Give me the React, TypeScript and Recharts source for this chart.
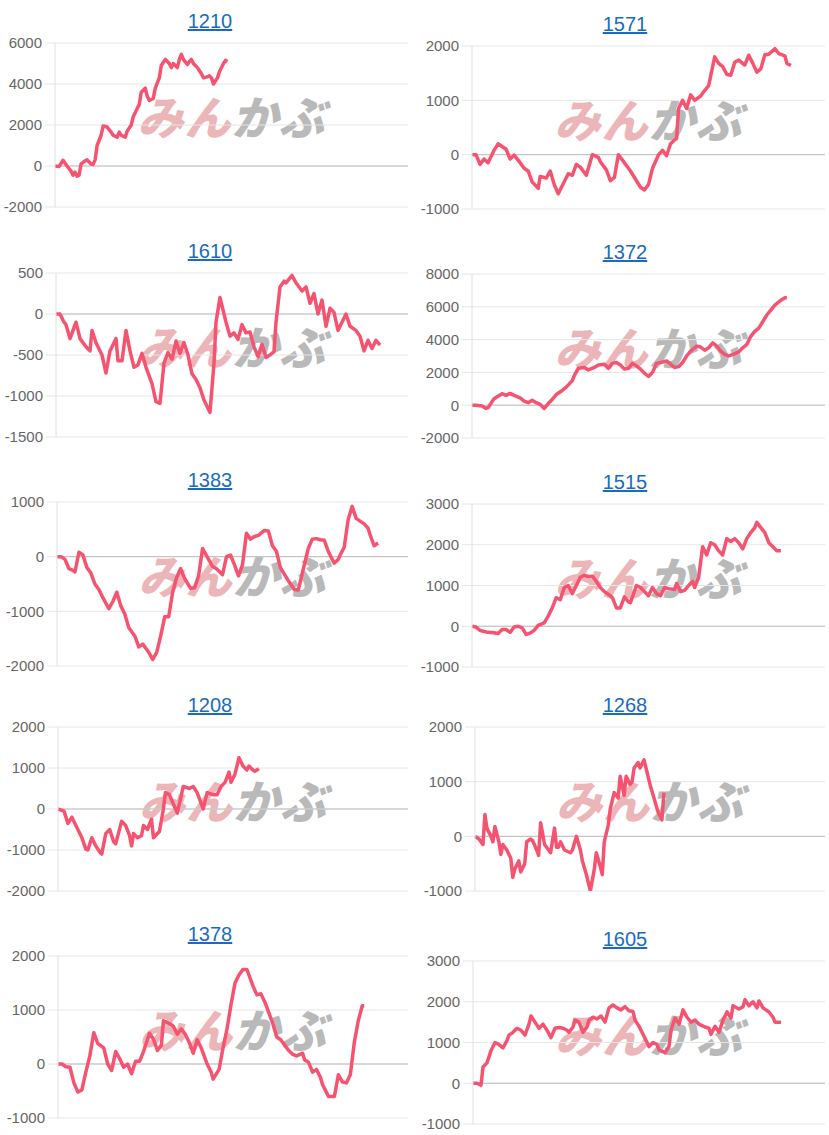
import React from 'react';
import { LineChart, Line, XAxis, YAxis, CartesianGrid, ReferenceLine } from 'recharts';

// ── series (t = trading-day slot, v = profit) ────────────────────────────────

const t1210 = [0, 2, 4, 6, 8, 9, 10, 11, 12, 13, 15, 16, 18, 19, 20, 21, 23, 24, 26, 28, 29, 31, 32, 33, 35, 36, 38, 39, 41, 42, 43, 45, 46, 47, 49, 50, 52, 53, 55, 57, 58, 59, 61, 62, 63, 64, 66, 67, 68, 69, 71, 73, 74, 76, 77, 78, 79, 81, 82, 84, 85, 86];
const v1210 = [0, -30, 280, 0, -250, -450, -300, -500, -450, 100, 250, 300, 100, 80, 300, 1000, 1500, 1950, 1900, 1650, 1500, 1400, 1650, 1500, 1400, 1700, 2000, 2400, 2800, 3000, 3600, 3800, 3400, 3200, 3300, 3800, 4300, 4900, 5200, 5000, 4800, 5000, 4800, 5200, 5450, 5200, 4950, 5100, 5200, 5000, 4800, 4500, 4300, 4350, 4400, 4300, 4000, 4300, 4600, 5000, 5150, 5100];

const t1571 = [0, 2, 4, 6, 8, 11, 13, 15, 17, 19, 21, 23, 26, 28, 30, 33, 34, 37, 39, 41, 43, 46, 48, 50, 52, 54, 57, 60, 63, 64, 67, 69, 71, 73, 75, 78, 79, 82, 84, 86, 88, 90, 93, 95, 97, 99, 101, 102, 103, 105, 107, 109, 111, 114, 116, 118, 121, 123, 125, 127, 129, 131, 133, 136, 138, 140, 142, 144, 146, 148, 151, 153, 156, 157, 159];
const v1571 = [0, 0, -180, -80, -150, 80, 200, 150, 100, -80, -10, -100, -250, -300, -500, -620, -400, -430, -300, -550, -720, -500, -350, -380, -180, -230, -380, 0, -50, -130, -280, -480, -420, 0, -100, -250, -300, -480, -600, -650, -550, -250, 0, 80, -20, 200, 270, 300, 850, 1000, 850, 1100, 1000, 1080, 1180, 1270, 1800, 1680, 1620, 1480, 1460, 1700, 1740, 1650, 1830, 1680, 1520, 1580, 1840, 1850, 1950, 1860, 1820, 1680, 1640];

const t1610 = [0, 2, 4, 5, 7, 10, 12, 15, 17, 18, 20, 23, 25, 27, 30, 31, 33, 35, 37, 39, 41, 43, 45, 48, 50, 52, 54, 56, 58, 60, 62, 64, 66, 68, 70, 72, 74, 77, 79, 80, 82, 85, 87, 89, 91, 93, 95, 97, 99, 101, 103, 105, 107, 109, 110, 112, 114, 115, 118, 120, 123, 125, 127, 129, 131, 133, 135, 137, 139, 141, 143, 145, 147, 150, 152, 154, 156, 158, 160, 162];
const v1610 = [0, 0, -100, -130, -300, -100, -300, -400, -450, -200, -350, -500, -720, -450, -300, -570, -570, -200, -450, -650, -620, -480, -650, -850, -1070, -1090, -600, -470, -550, -330, -480, -350, -500, -730, -800, -900, -1050, -1200, -600, -100, 200, -100, -270, -230, -310, -130, -230, -220, -400, -520, -370, -530, -500, -460, -100, 330, 400, 380, 470, 380, 280, 330, 130, 250, 0, 170, -150, 70, 20, -200, -100, 0, -150, -200, -270, -450, -320, -420, -320, -380];

const t1372 = [0, 2, 5, 7, 8, 11, 13, 15, 17, 19, 21, 24, 26, 28, 30, 32, 34, 36, 38, 40, 42, 45, 47, 50, 51, 53, 56, 58, 61, 63, 66, 68, 70, 72, 74, 76, 78, 80, 82, 84, 86, 88, 90, 92, 94, 97, 99, 101, 103, 105, 107, 109, 112, 114, 116, 118, 120, 122, 124, 126, 128, 131, 133, 135, 137, 139, 141, 143, 145, 147, 149, 151, 154, 156, 157];
const v1372 = [0, 0, -50, -200, -150, 400, 550, 700, 600, 720, 600, 450, 250, 150, 300, 150, 50, -200, 100, 350, 650, 900, 1100, 1500, 1800, 2250, 2300, 2150, 2300, 2450, 2500, 2250, 2550, 2600, 2450, 2200, 2250, 2550, 2400, 2200, 1950, 1750, 2000, 2550, 2600, 2700, 2500, 2300, 2350, 2600, 3000, 3300, 3600, 3550, 3350, 3500, 3800, 3600, 3300, 3100, 3000, 3150, 3250, 3500, 3700, 4200, 4500, 4700, 5100, 5500, 5800, 6100, 6400, 6550, 6550];

const t1383 = [0, 2, 4, 6, 8, 9, 11, 13, 15, 17, 19, 21, 23, 26, 28, 30, 32, 34, 36, 39, 41, 43, 46, 48, 50, 52, 54, 56, 58, 60, 62, 64, 67, 69, 71, 73, 76, 78, 80, 83, 85, 87, 89, 91, 93, 95, 97, 99, 101, 104, 106, 108, 110, 112, 114, 116, 119, 121, 123, 126, 128, 130, 132, 134, 136, 139, 141, 142, 144, 146, 148, 150, 152, 154, 156, 157, 159, 161];
const v1383 = [0, 0, -50, -220, -250, -280, 80, 30, -200, -300, -500, -600, -750, -950, -820, -650, -900, -1050, -1300, -1450, -1650, -1600, -1750, -1880, -1750, -1450, -1100, -1100, -650, -380, -220, -400, -580, -570, -350, 150, -50, -180, -220, -330, 0, 30, -150, -350, -150, 430, 320, 370, 390, 480, 470, 200, 100, -200, -320, -440, -600, -610, -300, 150, 320, 330, 310, 300, 100, -120, -50, 30, 170, 680, 920, 700, 650, 600, 520, 400, 200, 250];

const t1515 = [0, 2, 4, 6, 8, 11, 13, 15, 17, 19, 21, 23, 25, 27, 29, 31, 33, 36, 38, 40, 42, 44, 46, 48, 50, 52, 54, 56, 58, 60, 62, 64, 66, 69, 70, 72, 74, 76, 78, 79, 82, 84, 86, 88, 90, 92, 94, 96, 98, 101, 102, 104, 106, 108, 110, 111, 113, 115, 117, 119, 121, 123, 125, 127, 129, 131, 133, 135, 137, 139, 141, 142, 144, 146, 148, 150, 152, 154];
const v1515 = [0, -20, -100, -130, -150, -160, -180, -80, -80, -150, -20, 0, -40, -200, -170, -100, 20, 80, 250, 450, 700, 650, 950, 1000, 800, 1000, 1200, 1250, 1220, 1230, 1100, 950, 850, 750, 700, 450, 450, 720, 600, 580, 1000, 950, 850, 750, 950, 800, 750, 950, 920, 900, 1050, 850, 880, 1000, 1100, 950, 1200, 1950, 1750, 2050, 2000, 1850, 1750, 2150, 2080, 2150, 2050, 1900, 2150, 2300, 2420, 2550, 2420, 2300, 2050, 1950, 1850, 1850];

const t1208 = [0, 3, 5, 7, 9, 12, 14, 15, 17, 19, 21, 22, 24, 26, 28, 29, 32, 34, 36, 37, 38, 40, 42, 43, 45, 47, 48, 51, 53, 54, 56, 60, 63, 66, 68, 70, 73, 75, 78, 80, 82, 84, 86, 87, 89, 91, 93, 95, 96, 98, 99, 101];
const v1208 = [0, -50, -350, -200, -400, -700, -980, -1000, -700, -900, -1050, -1100, -600, -500, -800, -850, -300, -400, -650, -900, -600, -700, -650, -400, -500, -250, -700, -550, 0, 400, 350, -100, 550, 500, 550, 400, 0, 400, 350, 350, 550, 650, 900, 650, 850, 1250, 1050, 950, 1050, 950, 920, 980];

const t1268 = [0, 2, 4, 5, 6, 8, 9, 10, 12, 13, 14, 16, 18, 19, 20, 22, 23, 25, 26, 28, 29, 31, 32, 33, 35, 37, 38, 40, 41, 42, 43, 45, 48, 49, 51, 53, 54, 56, 58, 60, 61, 63, 64, 65, 67, 68, 70, 72, 73, 75, 76, 78, 79, 80, 82, 83, 85, 86, 88, 90, 92, 94, 95];
const v1268 = [0, -50, -150, 400, 150, 0, -100, 180, -100, -330, -150, -250, -400, -750, -600, -450, -650, -500, -100, -50, -80, -250, -350, 250, -150, -250, -300, 150, -200, -200, -100, -250, -300, -250, 0, -250, -450, -700, -1000, -600, -300, -550, -700, -100, 200, 500, 800, 700, 1100, 750, 1100, 950, 1000, 1250, 1350, 1250, 1400, 1250, 950, 700, 450, 300, 800];

const t1378 = [0, 2, 4, 6, 8, 10, 12, 14, 16, 18, 20, 23, 25, 27, 29, 31, 33, 35, 37, 39, 41, 43, 46, 48, 50, 52, 53, 56, 58, 60, 62, 64, 66, 68, 70, 72, 75, 77, 78, 81, 83, 85, 87, 89, 91, 93, 95, 98, 100, 102, 104, 106, 108, 110, 112, 114, 116, 118, 120, 123, 124, 126, 128, 130, 132, 133, 136, 138, 139, 141, 143, 145, 147, 149, 151, 153, 154];
const v1378 = [0, 0, -50, -60, -350, -520, -480, -150, 150, 580, 380, 300, 0, -120, 230, 100, -60, 0, -180, 50, 50, 230, 570, 460, 250, 350, 800, 750, 700, 550, 650, 550, 400, 200, 450, 300, 0, -150, -280, -100, 300, 650, 1100, 1500, 1650, 1750, 1750, 1450, 1280, 1300, 1150, 950, 750, 500, 450, 350, 250, 180, 150, 200, 80, 30, -150, -100, -250, -380, -600, -600, -600, -200, -330, -350, -200, 400, 800, 1080, 1080];

const t1605 = [0, 2, 4, 5, 7, 9, 11, 13, 15, 17, 18, 20, 22, 24, 26, 28, 29, 31, 33, 35, 37, 39, 41, 43, 45, 47, 48, 50, 51, 53, 55, 57, 58, 60, 62, 64, 66, 68, 70, 72, 74, 76, 78, 80, 81, 83, 85, 88, 90, 92, 93, 96, 98, 99, 101, 103, 105, 107, 109, 111, 113, 116, 118, 119, 121, 123, 125, 127, 129, 130, 133, 135, 136, 138, 140, 142, 143, 145, 148, 150, 151, 153, 154];
const v1605 = [0, 0, -50, 400, 500, 800, 1000, 950, 870, 1050, 1180, 1250, 1350, 1300, 1180, 1450, 1650, 1500, 1350, 1450, 1300, 1120, 1350, 1370, 1350, 1300, 1250, 1380, 1550, 1500, 1250, 1380, 1550, 1620, 1580, 1650, 1500, 1850, 1920, 1850, 1800, 1880, 1780, 1760, 1550, 1400, 1200, 900, 1000, 950, 820, 750, 900, 1300, 1600, 1450, 1800, 1620, 1500, 1550, 1450, 1380, 1350, 1200, 1400, 1250, 1550, 1750, 1600, 1900, 1820, 1880, 2050, 1900, 2000, 1850, 2020, 1850, 1750, 1620, 1500, 1500, 1500];

// ── y-axis tick labels ────────────────────────────────────────────────────────

const ticks1210 = [-2000, 0, 2000, 4000, 6000];
const ticks1571 = [-1000, 0, 1000, 2000];
const ticks1610 = [-1500, -1000, -500, 0, 500];
const ticks1372 = [-2000, 0, 2000, 4000, 6000, 8000];
const ticks1383 = [-2000, -1000, 0, 1000];
const ticks1515 = [-1000, 0, 1000, 2000, 3000];
const ticks1208 = [-2000, -1000, 0, 1000, 2000];
const ticks1268 = [-1000, 0, 1000, 2000];
const ticks1378 = [-1000, 0, 1000, 2000];
const ticks1605 = [-1000, 0, 1000, 2000, 3000];

const SLOTS = 176;
const LINE = '#f5536f';
const COL_W = 414;

// layout: col 0 = left, 1 = right; plot box in page px
const panels = [
  { code: '1210', t: t1210, v: v1210, ticks: ticks1210, col: 0, top: 43, bottom: 207, left: 55 },
  { code: '1571', t: t1571, v: v1571, ticks: ticks1571, col: 1, top: 46, bottom: 209, left: 472 },
  { code: '1610', t: t1610, v: v1610, ticks: ticks1610, col: 0, top: 273, bottom: 437, left: 56 },
  { code: '1372', t: t1372, v: v1372, ticks: ticks1372, col: 1, top: 274, bottom: 438, left: 472 },
  { code: '1383', t: t1383, v: v1383, ticks: ticks1383, col: 0, top: 502, bottom: 666, left: 57 },
  { code: '1515', t: t1515, v: v1515, ticks: ticks1515, col: 1, top: 504, bottom: 667, left: 472 },
  { code: '1208', t: t1208, v: v1208, ticks: ticks1208, col: 0, top: 727, bottom: 891, left: 58 },
  { code: '1268', t: t1268, v: v1268, ticks: ticks1268, col: 1, top: 727, bottom: 891, left: 475 },
  { code: '1378', t: t1378, v: v1378, ticks: ticks1378, col: 0, top: 956, bottom: 1118, left: 58 },
  { code: '1605', t: t1605, v: v1605, ticks: ticks1605, col: 1, top: 961, bottom: 1124, left: 473 },
];

type Panel = (typeof panels)[number];

function Watermark({ cx, top }: { cx: number; top: number }) {
  return (
    <div
      style={{
        position: 'absolute', left: cx - 110, top, width: 220, height: 40,
        textAlign: 'center', fontFamily: '"Noto Sans CJK JP", sans-serif',
        fontSize: 46, fontWeight: 900, fontStyle: 'italic', lineHeight: '40px',
        letterSpacing: 1, whiteSpace: 'nowrap',
      }}
    >
      <span style={{ color: '#ecb6b9' }}>みん</span>
      <span style={{ color: '#b9b9b9' }}>かぶ</span>
    </div>
  );
}

function MiniChart({ p }: { p: Panel }) {
  const colX = p.col === 0 ? 0 : 415;
  const plotRight = p.col === 0 ? 408 : 825;
  const data = p.t.map((t, i) => ({ t, v: p.v[i] }));
  const h = p.bottom - p.top;
  const domain: [number, number] = [p.ticks[0], p.ticks[p.ticks.length - 1]];

  return (
    <>
      <a
        href="#"
        style={{
          position: 'absolute', left: colX + 3, width: COL_W, top: p.top - 34,
          textAlign: 'center', fontSize: 20, lineHeight: '24px', color: '#1a6bbf',
          fontFamily: '"Liberation Sans", Arial, sans-serif', textDecoration: 'underline',
        }}
      >
        {p.code}
      </a>
      <Watermark cx={(p.left + plotRight) / 2} top={p.top + 52} />
      <div style={{ position: 'absolute', left: colX, top: p.top - 10 }}>
        <LineChart
          width={COL_W}
          height={h + 20}
          data={data}
          margin={{ top: 10, bottom: 10, left: 0, right: colX + COL_W - plotRight }}
        >
          <CartesianGrid vertical={false} stroke="#e6e6e6" />
          <XAxis type="number" dataKey="t" domain={[0, SLOTS]} hide />
          <YAxis
            type="number"
            domain={domain}
            ticks={p.ticks}
            interval={0}
            width={p.left - colX}
            tickSize={10}
            tickMargin={3}
            axisLine={{ stroke: '#e0e0e0' }}
            tickLine={{ stroke: '#e6e6e6' }}
            tick={{ fontSize: 15, fill: '#666', fontFamily: '"Liberation Sans", Arial, sans-serif' }}
            allowDataOverflow
          />
          <ReferenceLine y={0} stroke="#bdbdbd" />
          <Line
            type="linear"
            dataKey="v"
            stroke={LINE}
            strokeWidth={3.5}
            dot={false}
            strokeLinejoin="round"
            isAnimationActive={false}
          />
        </LineChart>
      </div>
    </>
  );
}

export default function App() {
  return (
    <div style={{ position: 'absolute', left: 0, top: 0, width: 829, height: 1135, background: '#fff' }}>
      {panels.map(p => <MiniChart key={p.code} p={p} />)}
    </div>
  );
}
